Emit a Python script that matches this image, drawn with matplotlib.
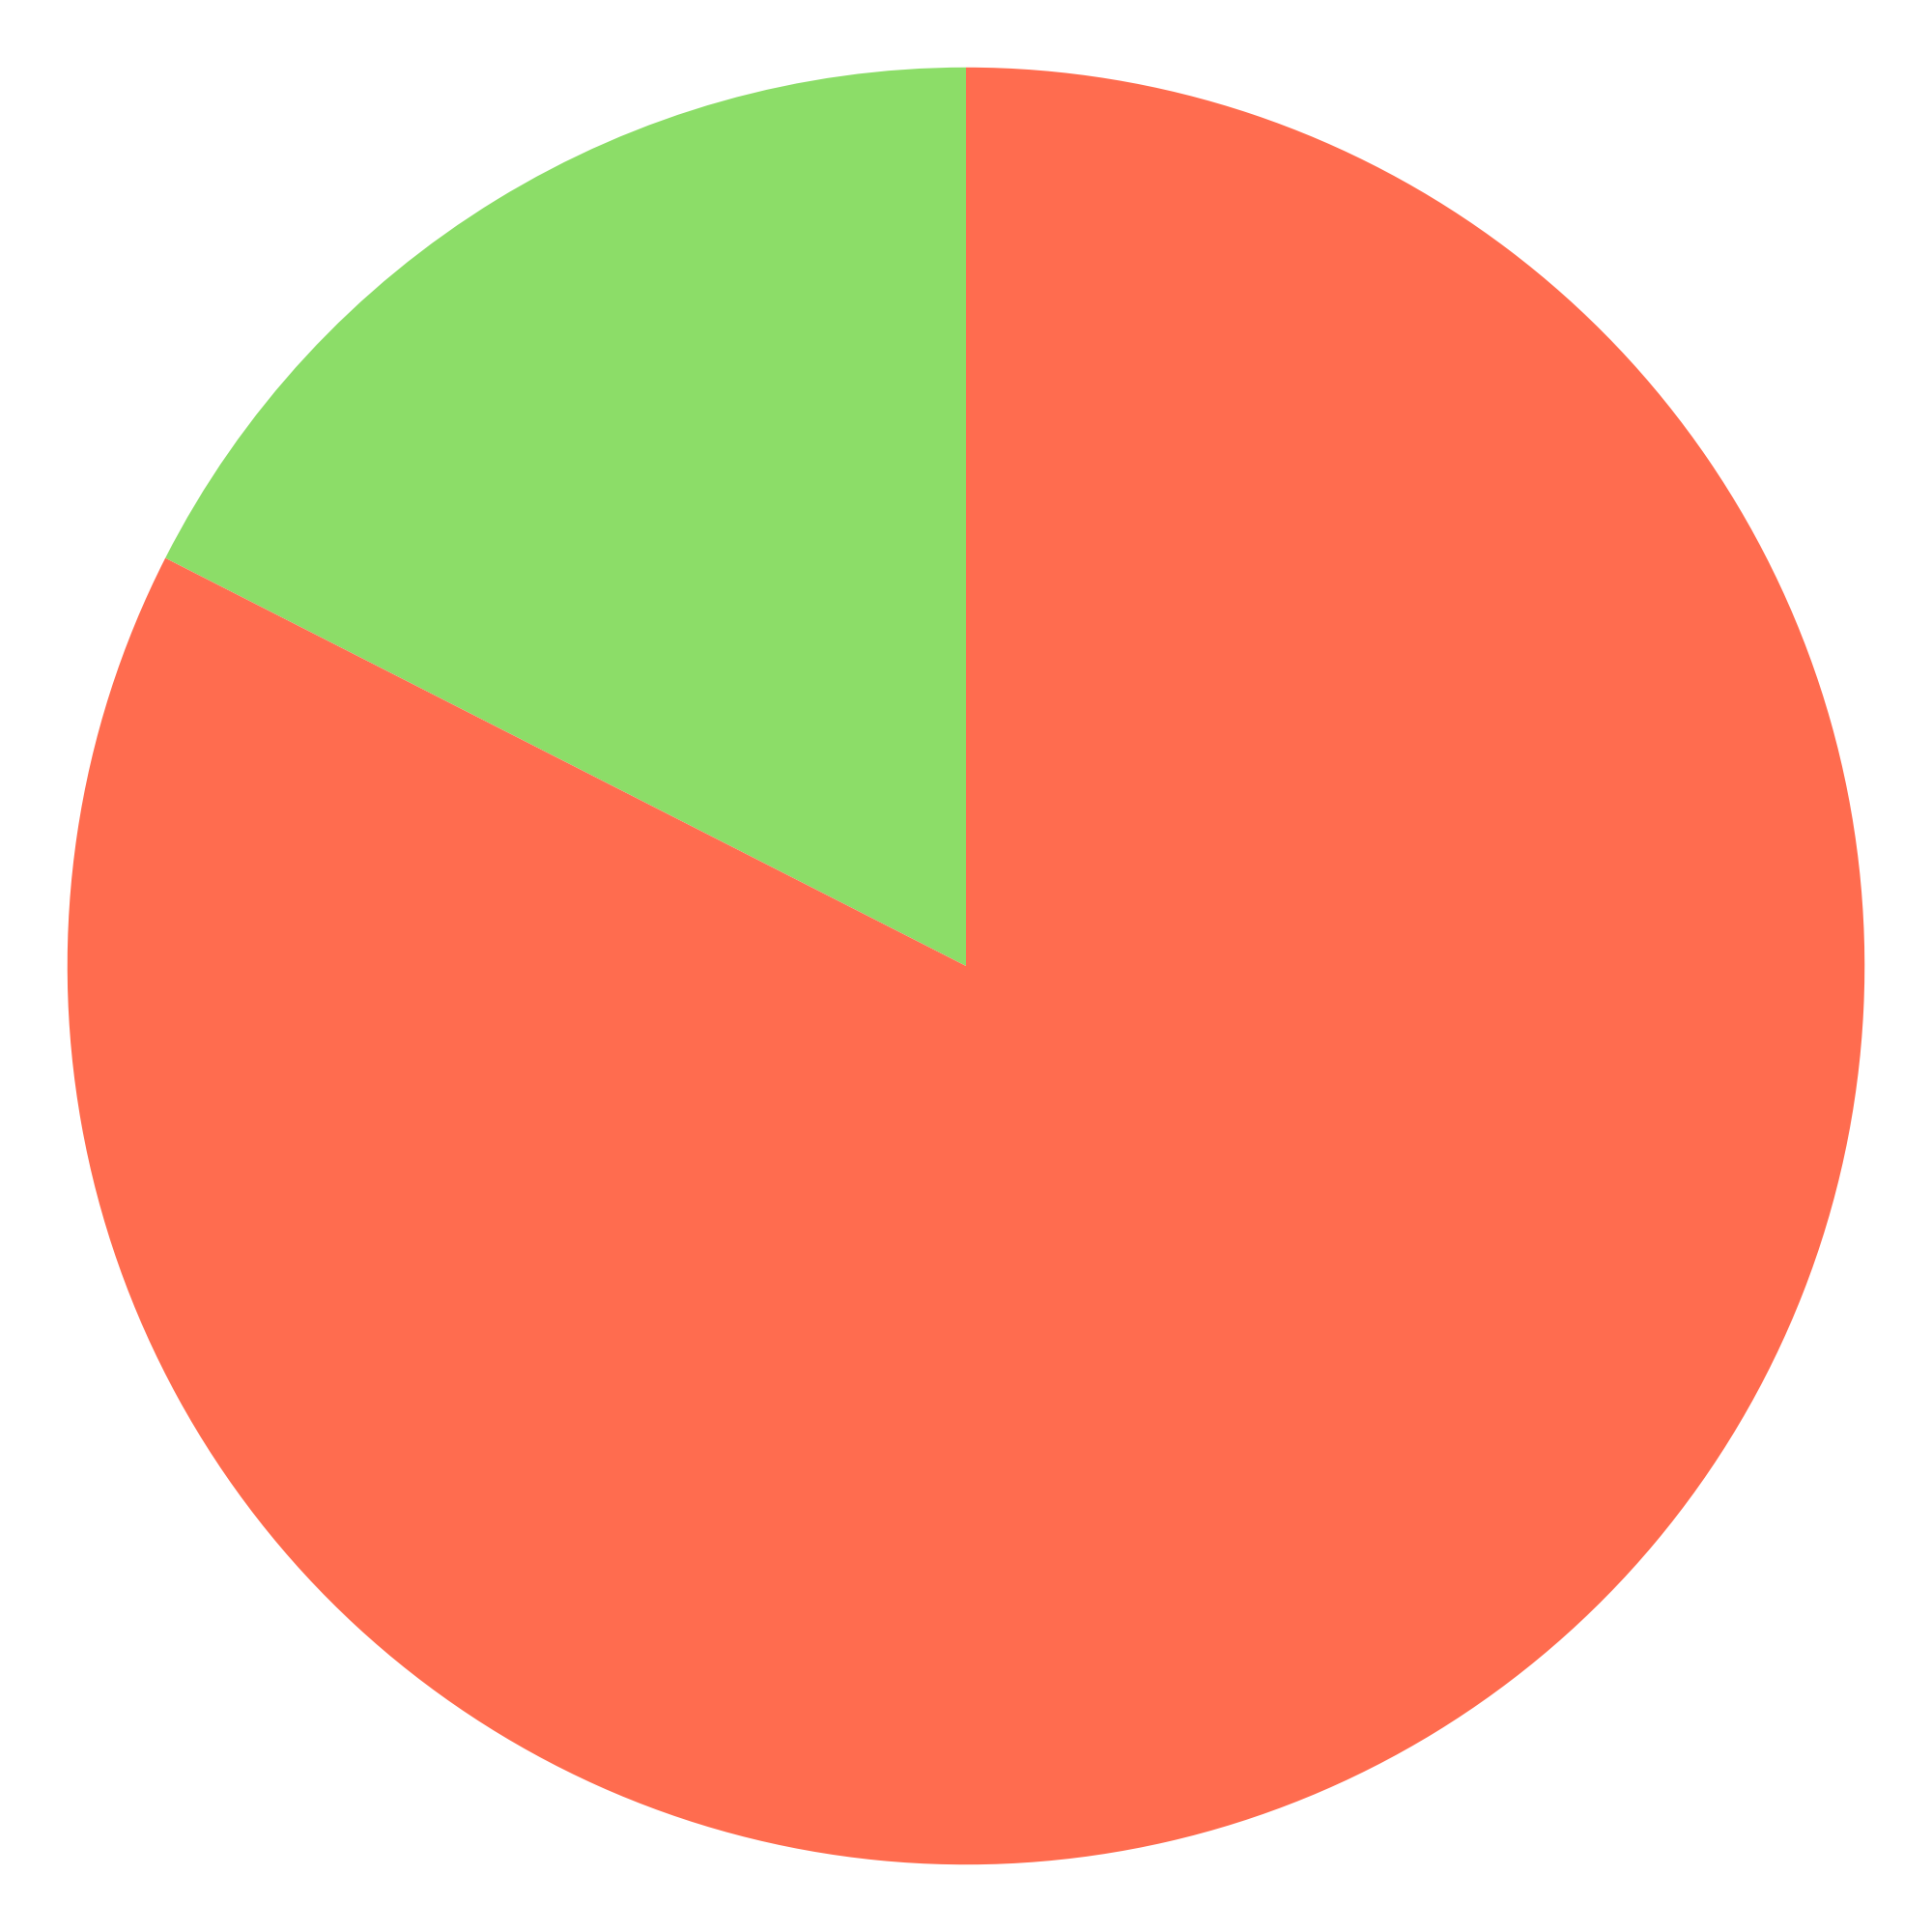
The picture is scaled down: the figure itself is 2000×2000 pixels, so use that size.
import matplotlib
matplotlib.use("Agg")
import matplotlib.pyplot as plt

labels = ["green", "red"]
values = [17.5, 82.5]
colors = ["#8CDD68", "#FF6C4F"]

fig = plt.figure(figsize=(20, 20), dpi=100)
ax = fig.add_axes([0, 0, 1, 1])
ax.pie(values, colors=colors, startangle=90, counterclock=True,
       wedgeprops={"linewidth": 0})
ax.set_xlim(-1.075, 1.075)
ax.set_ylim(-1.075, 1.075)
ax.set_aspect("equal")
ax.axis("off")
fig.savefig("out.png", dpi=100, facecolor="white")
